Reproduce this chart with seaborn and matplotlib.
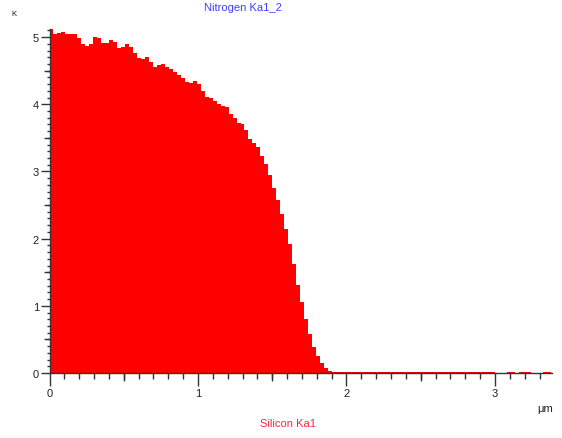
import numpy as np
import pandas as pd
import matplotlib
matplotlib.use("Agg")
import matplotlib.pyplot as plt
import seaborn as sns
from matplotlib.ticker import MultipleLocator, FixedLocator

sns.set_style("white")
plt.rcParams['font.family'] = ['Liberation Sans', 'DejaVu Sans']

# line scan profile (counts in K)
bin_width = 0.0268
profile = [
    5.12, 5.05, 5.06, 5.08, 5.04, 5.05, 5.05, 4.98, 4.90, 4.86,
    4.90, 5.00, 4.98, 4.91, 4.91, 4.95, 4.92, 4.84, 4.85, 4.89,
    4.85, 4.77, 4.69, 4.67, 4.70, 4.63, 4.56, 4.58, 4.60, 4.56,
    4.53, 4.48, 4.43, 4.39, 4.33, 4.32, 4.35, 4.30, 4.20, 4.11,
    4.09, 4.05, 4.00, 3.97, 3.96, 3.85, 3.79, 3.72, 3.71, 3.61,
    3.48, 3.42, 3.36, 3.23, 3.11, 2.95, 2.76, 2.58, 2.37, 2.14,
    1.92, 1.62, 1.31, 1.05, 0.80, 0.58, 0.39, 0.26, 0.15, 0.07,
    0.025, 0.015, 0.015, 0.015, 0.015, 0.015, 0.015, 0.015, 0.015, 0.015,
    0.015, 0.015, 0.015, 0.015, 0.015, 0.015, 0.015, 0.015, 0.015, 0.015,
    0.015, 0.015, 0.015, 0.015, 0.015, 0.015, 0.015, 0.015, 0.015, 0.015,
    0.015, 0.015, 0.015, 0.015, 0.015, 0.015, 0.015, 0.015, 0.015, 0.015,
    0.015, 0.015, 0.0, 0.0, 0.0, 0.015, 0.015, 0.0, 0.015, 0.015,
    0.015, 0.0, 0.0, 0.0, 0.015, 0.015,
]
x_ticks = [0, 1, 2, 3]
y_ticks = [0, 1, 2, 3, 4, 5]
mid_x_ticks = [0.5, 1.5, 2.5]
mid_y_ticks = [0.5, 1.5, 2.5, 3.5, 4.5]

edges = np.arange(len(profile) + 1) * bin_width
df = pd.DataFrame({"pos": (edges[:-1] + edges[1:]) / 2, "counts": profile})

fig = plt.figure(figsize=(5.62, 4.39), dpi=100)
ax = fig.add_axes([49.5 / 562, 65 / 439, 502.2 / 562, 344 / 439])

sns.histplot(data=df, x="pos", weights="counts", bins=edges.tolist(), element="step",
             fill=True, color="#ff0000", alpha=1, linewidth=0, ax=ax)

ax.set_xlim(0, 3.382)
ax.set_ylim(0, 5.12)
ax.set_xlabel("")
ax.set_ylabel("")
ax.set_xticks(x_ticks)
ax.set_yticks(y_ticks)
ax.xaxis.set_minor_locator(MultipleLocator(0.1))
ax.yaxis.set_minor_locator(MultipleLocator(0.1))

axis_col = "#333333"
for s in ["top", "right"]:
    ax.spines[s].set_visible(False)
for s in ["left", "bottom"]:
    ax.spines[s].set_color(axis_col)
    ax.spines[s].set_linewidth(1)

ax.tick_params(axis="x", which="major", length=9, width=1, color=axis_col,
               labelsize=8, labelcolor="#222222", pad=2, direction="out", bottom=True)
ax.tick_params(axis="x", which="minor", length=4.3, width=1, color=axis_col,
               direction="out", bottom=True)
ax.tick_params(axis="y", which="major", length=6.5, width=1, color=axis_col,
               labelsize=8, labelcolor="#222222", pad=1, direction="out", left=True)
ax.tick_params(axis="y", which="minor", length=2.5, width=1, color=axis_col,
               direction="out", left=True)

# half-unit ticks are a bit longer than the minor ones
secx = ax.secondary_xaxis("bottom")
secx.xaxis.set_major_locator(FixedLocator(mid_x_ticks))
secx.tick_params(length=6, width=1, color=axis_col, labelbottom=False, direction="out")
secx.spines["bottom"].set_visible(False)
secy = ax.secondary_yaxis("left")
secy.yaxis.set_major_locator(FixedLocator(mid_y_ticks))
secy.tick_params(length=4.3, width=1, color=axis_col, labelleft=False, direction="out")
secy.spines["left"].set_visible(False)

fig.text(243 / 562, 1 - 8 / 439, "Nitrogen Ka1_2", ha="center", va="center",
         color="#3d3dff", fontsize=8)
fig.text(288 / 562, 1 - 424 / 439, "Silicon Ka1", ha="center", va="center",
         color="#ff2040", fontsize=8)
fig.text(545 / 562, 1 - 409 / 439, "μm", ha="center", va="center",
         color="#222222", fontsize=8)
fig.text(14 / 562, 1 - 15 / 439, "K", ha="center", va="center",
         color="#111111", fontsize=5.5)

fig.savefig("out.png", dpi=100, facecolor="white")
